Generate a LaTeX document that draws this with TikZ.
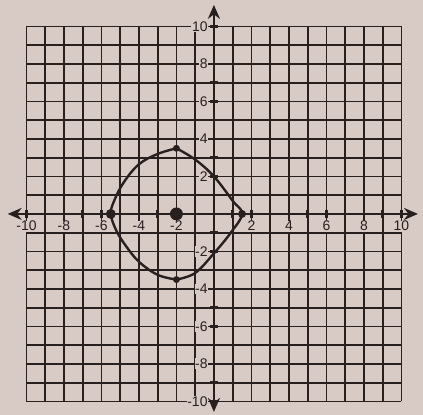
\documentclass[tikz,border=0pt]{standalone}
\usepackage{fontspec}
\setmainfont{Liberation Sans}
\usetikzlibrary{arrows.meta}
\definecolor{paperpink}{RGB}{216,203,198}
\definecolor{inkdark}{RGB}{40,31,31}

\begin{document}
\begin{tikzpicture}[
  x=0.6615cm, y=0.6615cm,
  every node/.style={font=\fontsize{14}{16}\selectfont, text=inkdark},
  gridline/.style={inkdark, line width=1.8pt},
  axisline/.style={{Stealth[length=14pt,width=12pt]}-{Stealth[length=14pt,width=12pt]}, inkdark, line width=2.8pt},
  tickmark/.style={inkdark, line width=2.4pt},
  ticklabel/.style={fill=paperpink, inner sep=0.6pt},
  handcurve/.style={inkdark, line width=2.4pt, line join=round},
  plotdot/.style={circle, fill=inkdark, inner sep=0pt},
]

% ===== Page and grid =====
\fill[paperpink] (-11.41,-10.72) rectangle (11.15,11.41);
\useasboundingbox (-11.41,-10.72) rectangle (11.15,11.41);

\foreach \k in {-10,...,10} {
  \draw[gridline] (\k,-10) -- (\k,10);
  \draw[gridline] (-10,\k) -- (10,\k);
}

%% ---- AXES ----
\coordinate (xleft)  at (-11.0,0);
\coordinate (xright) at (10.88,0);
\coordinate (ydown)  at (0,-10.56);
\coordinate (yup)    at (0,11.15);
\draw[axisline] (xleft) -- (xright);
\draw[axisline] (ydown) -- (yup);

% Ticks at every unit
\foreach \k in {-10,...,-1,1,2,...,10} {
  \draw[tickmark] (\k,-0.2) -- (\k,0.2);
  \draw[tickmark] (-0.2,\k) -- (0.2,\k);
}

% Labels at even numbers
\foreach \k in {-10,-8,...,-2,2,4,...,10} {
  \node[ticklabel] (xlab\k) at (\k,-0.65) {\k};
  \node[ticklabel, anchor=east] (ylab\k) at (-0.3,\k) {\k};
}

%% ---- HAND-DRAWN CIRCLE ----
\draw[handcurve] plot[smooth, tension=0.6] coordinates
  {(-2,3.5) (-3,3.2) (-4,2.65) (-4.8,1.7) (-5.3,0.75) (-5.5,0)
   (-5.2,-0.9) (-4.7,-1.7) (-4,-2.55) (-3,-3.25) (-2,-3.5)};
\draw[handcurve] plot[smooth, tension=0.6] coordinates
  {(-2,-3.5) (-1,-3.15) (0,-2.1) (0.9,-1.0) (1.5,0)
   (1.0,0.7) (0,2.0) (-1,2.9) (-2,3.5)};

% Marked points
\node[plotdot, minimum size=13pt] (centre) at (-2,0) {};
\node[plotdot, minimum size=10pt] (leftpt) at (-5.5,0) {};
\node[plotdot, minimum size=8pt] (rightpt) at (1.5,0) {};
\node[plotdot, minimum size=7pt] (toppt) at (-2,3.5) {};
\node[plotdot, minimum size=7pt] (botpt) at (-2,-3.5) {};

\end{tikzpicture}
\end{document}
